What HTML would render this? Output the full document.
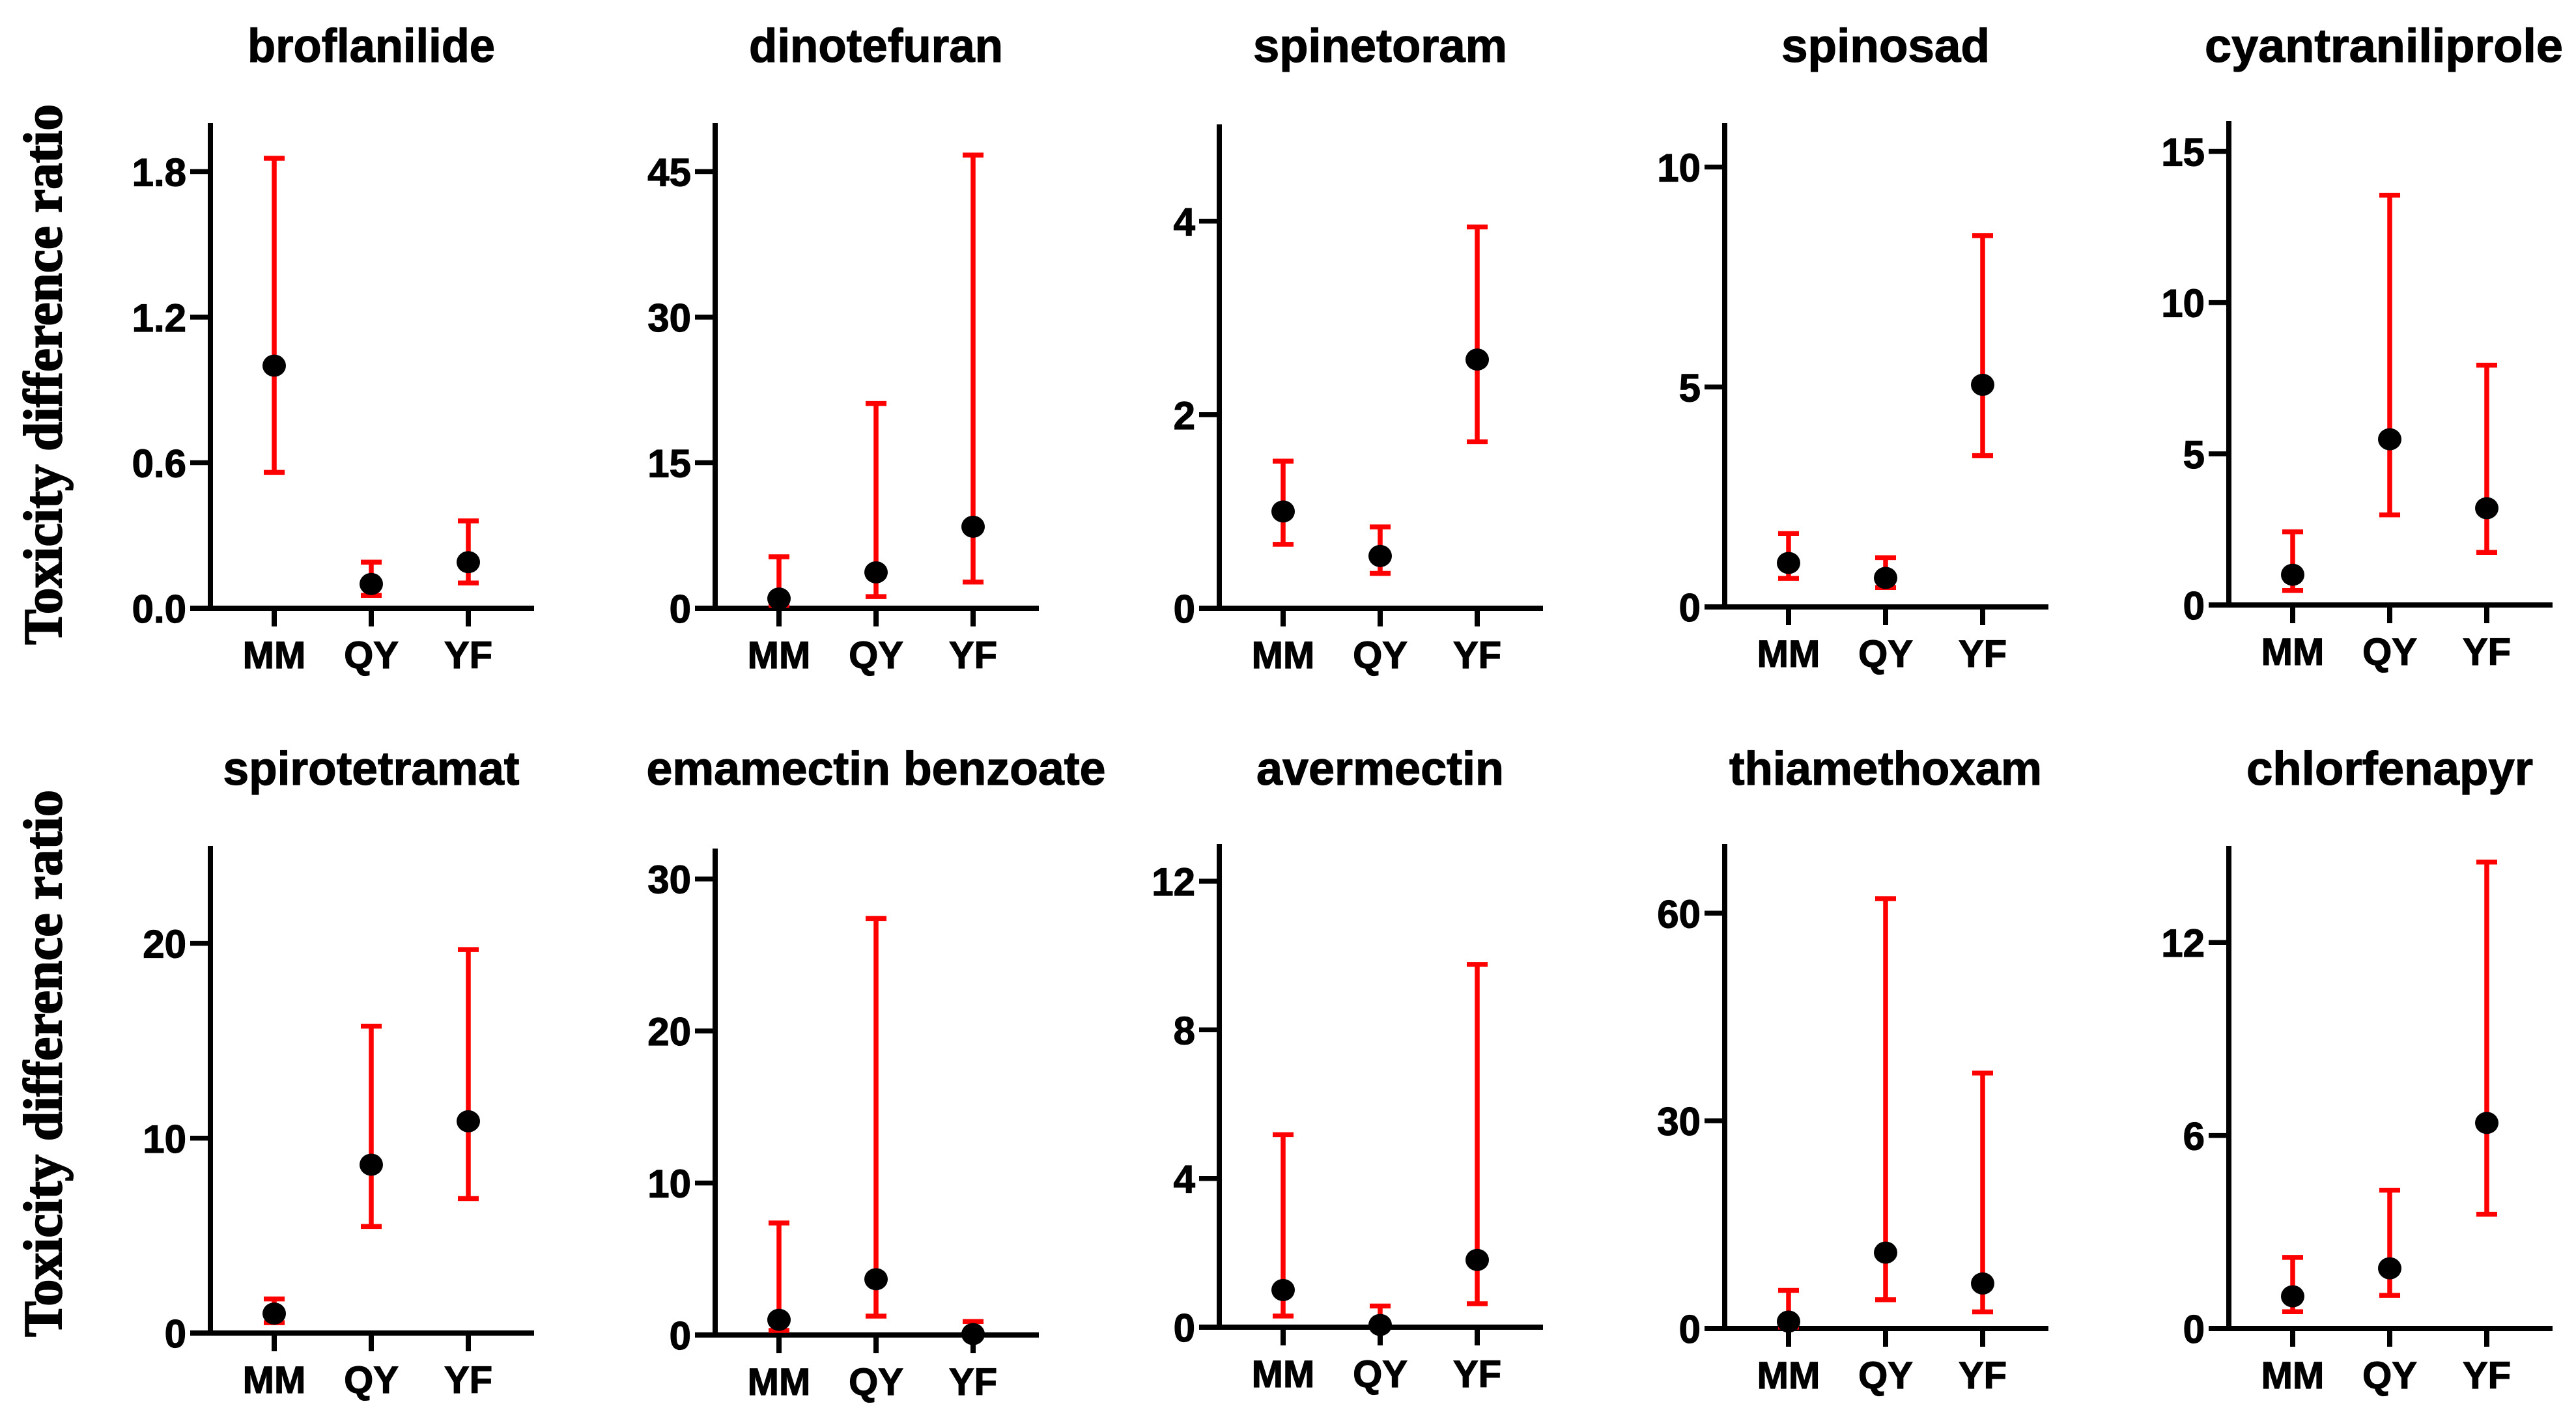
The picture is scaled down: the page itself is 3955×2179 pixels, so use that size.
<!DOCTYPE html>
<html><head><meta charset="utf-8"><style>
html,body{margin:0;padding:0;background:#fff;}
svg{display:block;}
text{font-family:"Liberation Sans",Arial,sans-serif;font-weight:bold;fill:#000;stroke:#000;stroke-width:1.2px;}
</style></head><body>
<svg id="fig" width="3955" height="2179" viewBox="0 0 3955 2179" xmlns="http://www.w3.org/2000/svg">
<text transform="translate(94,575) rotate(-90)" text-anchor="middle" textLength="830" lengthAdjust="spacingAndGlyphs" style="font-family:'Liberation Serif',serif;font-weight:bold;font-size:84px;stroke-width:2px;">Toxicity difference ratio</text>
<text transform="translate(94,1633) rotate(-90)" text-anchor="middle" textLength="840" lengthAdjust="spacingAndGlyphs" style="font-family:'Liberation Serif',serif;font-weight:bold;font-size:84px;stroke-width:2px;">Toxicity difference ratio</text>
</svg>
<script>
const categories = ["MM","QY","YF"];
const titles = ["broflanilide","dinotefuran","spinetoram","spinosad","cyantraniliprole","spirotetramat","emamectin benzoate","avermectin","thiamethoxam","chlorfenapyr"];
const yMax = [2.0,50,5,11,16,25,32,13,70,15];
const tickLabels = [["0.0","0.6","1.2","1.8"],["0","15","30","45"],["0","2","4"],["0","5","10"],["0","5","10","15"],["0","10","20"],["0","10","20","30"],["0","4","8","12"],["0","30","60"],["0","6","12"]];
const means = [[1.0,0.10,0.19],[1.0,3.7,8.4],[1.0,0.54,2.57],[1.0,0.66,5.05],[1.0,5.48,3.2],[1.0,8.64,10.87],[1.0,3.67,0.06],[1.0,0.06,1.81],[1.0,10.96,6.5],[1.0,1.87,6.39]];
const upper = [[1.855,0.19,0.36],[5.3,21.1,46.7],[1.52,0.84,3.94],[1.67,1.12,8.44],[2.42,13.55,7.93],[1.75,15.75,19.68],[7.37,27.4,0.89],[5.18,0.57,9.76],[5.5,62.1,36.9],[2.21,4.3,14.5]];
const lower = [[0.56,0.053,0.104],[0.3,1.2,2.7],[0.66,0.36,1.72],[0.65,0.44,3.44],[0.48,2.98,1.74],[0.53,5.47,6.9],[0.3,1.24,0.02],[0.3,0.01,0.63],[0.2,4.15,2.4],[0.52,1.03,3.55]];

const NS="http://www.w3.org/2000/svg";
const svg=document.getElementById('fig');
const axisX=[323,1098,1872,2648,3422];
const tops=[189,189,191,189,186,1299,1303,1296,1296,1299];
const bottoms=[934,934,934,932,929,2047,2050,2038,2040,2040];
const titleY=[95,1205];
const titleW=[380,390,390,320,550,455,705,380,480,440];
function mk(tag,attrs,parent){const e=document.createElementNS(NS,tag);for(const k in attrs)e.setAttribute(k,attrs[k]);(parent||svg).appendChild(e);return e;}
for(let p=0;p<10;p++){
  const col=p%5,row=Math.floor(p/5);
  const ax=axisX[col],top=tops[p],bot=bottoms[p];
  const yScale=v=>bot-(v/yMax[p])*(bot-top);
  const xScale=i=>ax+98+i*149;
  const g=mk('g',{});
  
  
  const t=mk('text',{x:(p===4?3660:ax+247),y:titleY[row],'text-anchor':'middle','font-size':72,textLength:titleW[p],lengthAdjust:'spacingAndGlyphs'},g);
  
  
  t.textContent=titles[p];
  const ya=mk('line',{x1:ax,y1:top,x2:ax,y2:bot+4,stroke:'#000','stroke-width':8},g);
  
  
  const xa=mk('line',{x1:ax-31,y1:bot,x2:ax+497,y2:bot,stroke:'#000','stroke-width':8},g);
  
  
  tickLabels[p].forEach(lbl=>{
    const v=parseFloat(lbl),y=yScale(v);
    const tk=mk('line',{x1:ax-31,y1:y,x2:ax,y2:y,stroke:'#000','stroke-width':7.5},g);
    
    
    const tl=mk('text',{x:ax-37,y:y+22,'text-anchor':'end','font-size':60},g);
    
    
    tl.textContent=lbl;
  });
  categories.forEach((c,i)=>{
    const x=xScale(i);
    const tk=mk('line',{x1:x,y1:bot,x2:x,y2:bot+28,stroke:'#000','stroke-width':8},g);
    
    
    const cl=mk('text',{x:x,y:bot+92,'text-anchor':'middle','font-size':58},g);
    
    
    cl.textContent=c;
    const yu=yScale(upper[p][i]),yl=yScale(lower[p][i]),ym=yScale(means[p][i]);
    const eb=mk('path',{d:`M${x-16},${yu}H${x+16}M${x},${yu}V${yl}M${x-16},${yl}H${x+16}`,stroke:'#ff0000','stroke-width':7.5,fill:'none'},g);
    
    
    const d=mk('ellipse',{cx:x,cy:ym,rx:18,ry:17,fill:'#000'},g);
    
    
  });
}
</script>
</body></html>
